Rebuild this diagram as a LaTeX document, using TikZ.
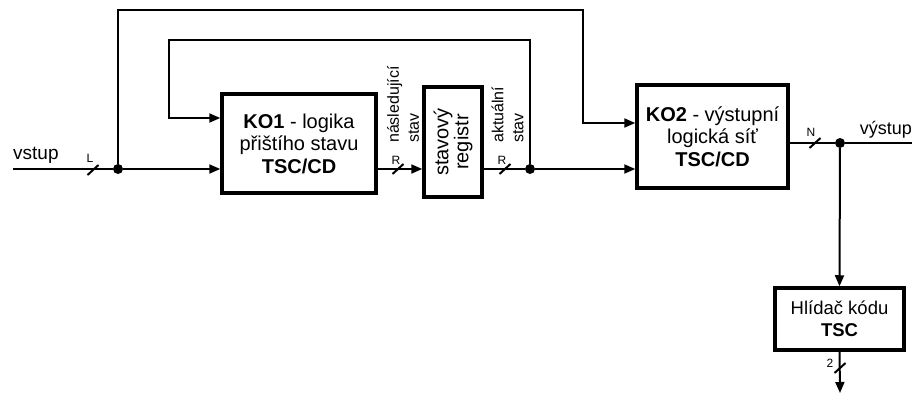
\documentclass[tikz,border=0pt]{standalone}
\usepackage{fontspec}
\setmainfont{Liberation Sans}
\usetikzlibrary{arrows.meta, positioning, calc}

\tikzset{
  blok/.style={draw, line width=3.5pt, minimum width=#1, align=center,
    font=\fontsize{20}{22.5}\selectfont, inner sep=0pt},
  sig/.style={line width=2pt},
  arr/.style={sig, -{Triangle[length=11pt, width=9pt]}},
  tecka/.style={circle, fill, inner sep=0pt, minimum size=10pt},
  sirka/.style={font=\fontsize{12}{12}\selectfont, inner sep=0pt},
  popis/.style={rotate=90, align=left, anchor=west, inner sep=0pt,
    font=\fontsize{16}{20}\selectfont},
  bus/.pic={\draw[line width=2pt] (-5.5,5) -- (5.5,-5);}
}

\begin{document}
\begin{tikzpicture}[x=1pt, y=-1pt]
  \useasboundingbox (0,0) rectangle (917,396);

  % bloky
  \node[blok=154pt, minimum height=99pt] (ko1) at (299,143.5)
    {\textbf{KO1} - logika\\přištího stavu\\\textbf{TSC/CD}};
  \node[blok=110pt, minimum height=58pt, rotate=90,
    font=\fontsize{20}{20}\selectfont] (reg) at (453,142) {stavový\\registr};
  \node[blok=151pt, minimum height=103pt] (ko2) at (712.5,136.5)
    {\textbf{KO2} - výstupní\\logická síť\\\textbf{TSC/CD}};
  \node[blok=129pt, minimum height=62pt, font=\fontsize{18.5}{22}\selectfont]
    (hlidac) at (839.5,319) {Hlídač kódu\\\textbf{TSC}};

  % uzly
  \node[tecka] (j1) at (118,169) {};
  \node[tecka] (j2) at (530,169) {};
  \node[tecka] (j3) at (840,143) {};
  \coordinate (in) at (13,169);
  \coordinate (out) at (912,143);
  \coordinate (down) at (840,393);

  % vstup
  \draw[sig] (in) -- (j1);
  \node[font=\fontsize{19}{20}\selectfont, anchor=south west, inner sep=0pt]
    at (13,164) {vstup};
  \pic at (93,170) {bus};
  \node[sirka] at (90,158) {L};
  \draw[arr] (j1) -- (ko1.west |- j1);

  % zpetne vazby
  \draw[arr] (j2) -- (530,40) -| (169,118) -- (ko1.west |- 0,118);
  \draw[arr] (j1) -- (118,10) -| (583,123) -- (ko2.west |- 0,123);

  % stav
  \draw[arr] (ko1.east |- j1) -- (reg.north |- j1);
  \pic at (398,169) {bus};
  \node[sirka] at (396,160) {R};
  \node[popis] at (403,143) {následující\\stav};
  \draw[sig] (reg.south |- j2) -- (j2);
  \pic at (505,169) {bus};
  \node[sirka] at (502,160) {R};
  \node[popis] at (507.5,143) {aktuální\\stav};
  \draw[arr] (j2) -- (ko2.west |- j2);

  % vystup
  \draw[sig] (ko2.east |- j3) -- (j3) -- (out);
  \pic at (815,143) {bus};
  \node[sirka] at (811,132) {N};
  \node[font=\fontsize{18}{20}\selectfont, anchor=south east, inner sep=0pt]
    at (912,138) {výstup};
  \draw[arr] (j3) -- (hlidac.north);
  \draw[arr] (hlidac.south) -- (down);
  \pic at (840,368) {bus};
  \node[sirka] at (830,363) {2};
\end{tikzpicture}
\end{document}
